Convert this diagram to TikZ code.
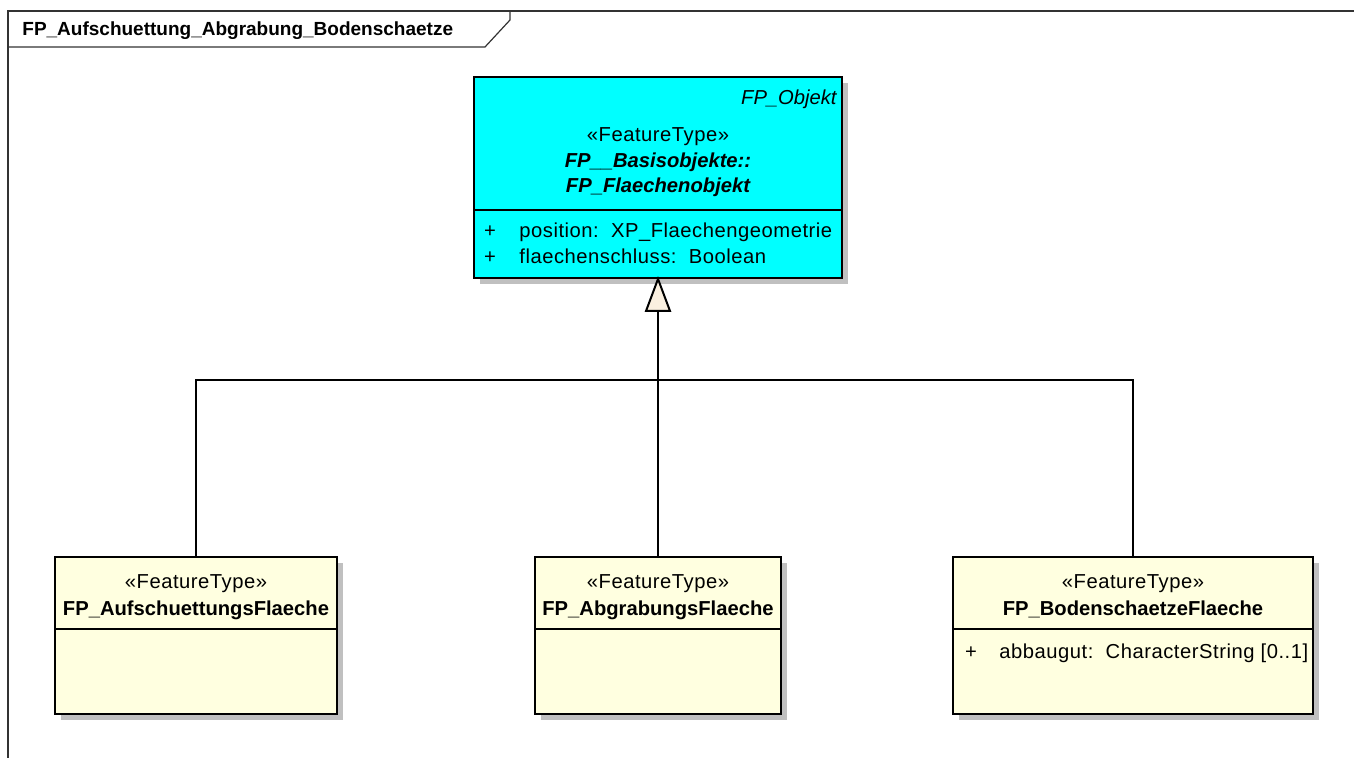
\documentclass[tikz,border=0pt]{standalone}
\usepackage{fontspec}
\setmainfont[LetterSpace=2.6]{Liberation Sans}
\newfontfamily\boldfam{Liberation Sans}
\usetikzlibrary{shadows,fit}
\definecolor{cyanbox}{HTML}{00FFFF}
\definecolor{ylwbox}{HTML}{FFFFE0}
\definecolor{shadowgray}{HTML}{C0C0C0}
\definecolor{trifill}{HTML}{FAF0E0}
\begin{document}
\begin{tikzpicture}[x=0.5pt,y=-0.5pt,
  every node/.style={font=\fontsize{10.1}{12}\selectfont},
  boldtxt/.style={font=\fontsize{10.1}{12}\selectfont\boldfam\bfseries},
  bitxt/.style={font=\fontsize{10.1}{12}\selectfont\boldfam\bfseries\itshape},
  classbox/.style={draw, line width=1pt, rectangle, inner sep=0pt,
    general shadow={fill=shadowgray, shadow xshift=3pt, shadow yshift=-3pt}},
  txt/.style={inner sep=0pt, anchor=mid},
  ltxt/.style={inner sep=0pt, anchor=mid west},
  conn/.style={line width=1pt},
  frameline/.style={line width=0.6pt, draw=black!80}]
\useasboundingbox (0,0) rectangle (1354,758);
% frame
\draw[frameline] (8,758) -- (8,11) -- (1354,11);
\draw[frameline] (8,47) -- (485,47) -- (510,20) -- (510,11);
\node[ltxt, font=\fontsize{9.5}{12}\selectfont\boldfam\bfseries] (title) at (22,30) {FP\_Aufschuettung\_Abgrabung\_Bodenschaetze};
% top class
\node[classbox, fill=cyanbox, fit={(474,77) (842,278)}] (top) {};
\draw[line width=1pt] (474,210) -- (842,210);
\node[inner sep=0pt, anchor=mid east, font=\fontsize{10.1}{12}\selectfont\boldfam\itshape] (topparent) at (837,99) {FP\_Objekt};
\node[txt] (topst) at (658,136) {«FeatureType»};
\node[txt, bitxt] (topn1) at (658,162) {FP\_\_Basisobjekte::};
\node[txt, bitxt] (topn2) at (658,187) {FP\_Flaechenobjekt};
\node[txt] (tp1) at (490,232) {+};
\node[ltxt] (ta1) at (519,232) {position:\ \ XP\_Flaechengeometrie};
\node[txt] (tp2) at (490,258) {+};
\node[ltxt] (ta2) at (519,258) {flaechenschluss:\ \ Boolean};
% bottom classes
\node[classbox, fill=ylwbox, fit={(55,557) (337,714)}] (left) {};
\draw[line width=1pt] (55,629) -- (337,629);
\node[txt] (lst) at (196,583) {«FeatureType»};
\node[txt, boldtxt] (lname) at (196,610) {FP\_AufschuettungsFlaeche};
\node[classbox, fill=ylwbox, fit={(535,557) (781,714)}] (mid) {};
\draw[line width=1pt] (535,629) -- (781,629);
\node[txt] (mst) at (658,583) {«FeatureType»};
\node[txt, boldtxt] (mname) at (658,610) {FP\_AbgrabungsFlaeche};
\node[classbox, fill=ylwbox, fit={(953,557) (1313,714)}] (right) {};
\draw[line width=1pt] (953,629) -- (1313,629);
\node[txt] (rst) at (1133,583) {«FeatureType»};
\node[txt, boldtxt] (rname) at (1133,610) {FP\_BodenschaetzeFlaeche};
\node[txt] (rp1) at (971,653) {+};
\node[ltxt] (ra1) at (999,653) {abbaugut:\ \ CharacterString [0..1]};
% generalization
\coordinate (tribase) at ([yshift=-16pt]top.south);
\draw[conn, fill=trifill] (top.south) -- ([xshift=-6pt,yshift=-16pt]top.south) -- ([xshift=6pt,yshift=-16pt]top.south) -- cycle;
\coordinate (jn) at (658,380);
\draw[conn] (mid.north) -- (tribase);
\draw[conn] (left.north) |- (jn) -| (right.north);
\end{tikzpicture}
\end{document}
